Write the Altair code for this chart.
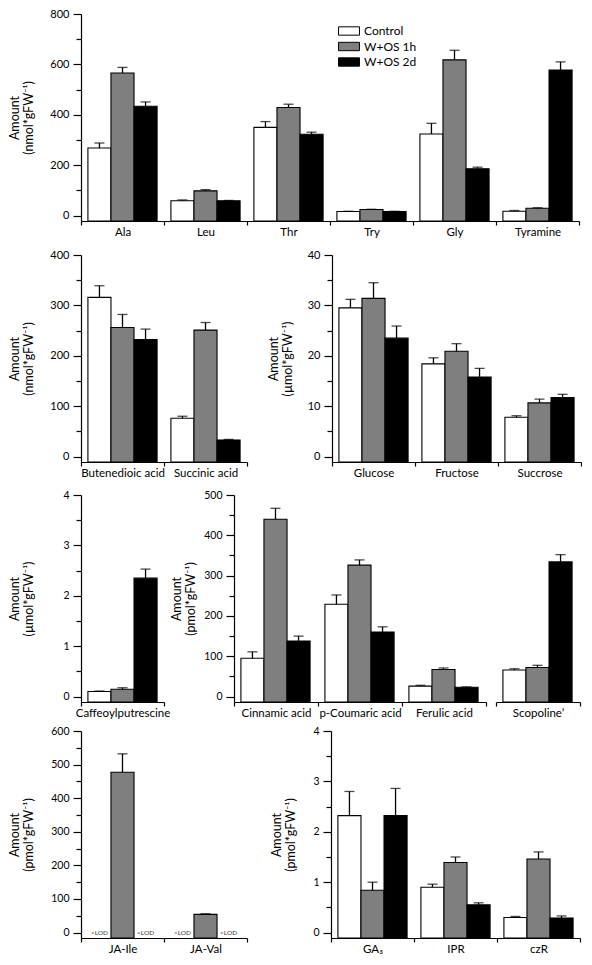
import altair as alt
import pandas as pd

FONT = "Lato"
GROUPS = ["Control", "W+OS 1h", "W+OS 2d"]
FILLS = ["#ffffff", "#7f7f7f", "#000000"]

# ---- Panel 1: amino acids (nmol*gFW-1)
p1_cats = ["Ala", "Leu", "Thr", "Try", "Gly", "Tyramine"]
p1_ctrl = [268, 59, 350, 16, 324, 17]
p1_ctrl_err = [20, 3, 23, 1, 42, 3]
p1_h1 = [566, 98, 429, 24, 618, 29]
p1_h1_err = [22, 5, 13, 1, 38, 2]
p1_d2 = [434, 59, 323, 16, 186, 578]
p1_d2_err = [17, 1, 8, 1, 6, 32]

# ---- Panel 2: organic acids (nmol*gFW-1)
p2_cats = ["Butenedioic acid", "Succinic acid"]
p2_ctrl = [316, 76]
p2_ctrl_err = [23, 4]
p2_h1 = [256, 251]
p2_h1_err = [26, 15]
p2_d2 = [232, 33]
p2_d2_err = [21, 1]

# ---- Panel 3: sugars (umol*gFW-1)
p3_cats = ["Glucose", "Fructose", "Succrose"]
p3_ctrl = [29.5, 18.4, 7.8]
p3_ctrl_err = [1.7, 1.2, 0.3]
p3_h1 = [31.4, 20.9, 10.65]
p3_h1_err = [3.1, 1.5, 0.75]
p3_d2 = [23.5, 15.8, 11.7]
p3_d2_err = [2.4, 1.7, 0.65]

# ---- Panel 4: caffeoylputrescine (umol*gFW-1)
p4_cats = ["Caffeoylputrescine"]
p4_ctrl = [0.10]
p4_ctrl_err = [0.01]
p4_h1 = [0.145]
p4_h1_err = [0.03]
p4_d2 = [2.35]
p4_d2_err = [0.18]

# ---- Panel 5: phenolics (pmol*gFW-1)
p5_cats = ["Cinnamic acid", "p-Coumaric acid", "Ferulic acid"]
p5_ctrl = [95, 229, 26]
p5_ctrl_err = [16, 23, 2]
p5_h1 = [440, 326, 67]
p5_h1_err = [27, 13, 4]
p5_d2 = [138, 160, 23]
p5_d2_err = [12, 13, 1]

p5b_cats = ["Scopoline\u2019"]
p5b_ctrl = [66]
p5b_ctrl_err = [3]
p5b_h1 = [72]
p5b_h1_err = [5.5]
p5b_d2 = [334]
p5b_d2_err = [18]

# ---- Panel 6: jasmonates (pmol*gFW-1); None = <LOD
p6_cats = ["JA-Ile", "JA-Val"]
p6_ctrl = [None, None]
p6_ctrl_err = [None, None]
p6_h1 = [477, 54]
p6_h1_err = [55, 2]
p6_d2 = [None, None]
p6_d2_err = [None, None]

# ---- Panel 7: GA and cytokinins (pmol*gFW-1)
p7_cats = ["GA\u2083", "IPR", "czR"]
p7_ctrl = [2.32, 0.90, 0.30]
p7_ctrl_err = [0.48, 0.06, 0.02]
p7_h1 = [0.84, 1.39, 1.46]
p7_h1_err = [0.16, 0.11, 0.14]
p7_d2 = [2.32, 0.55, 0.29]
p7_d2_err = [0.54, 0.04, 0.04]

H = 207


def make_df(cats, c, ce, h, he, d, de):
    rows = []
    for i, cat in enumerate(cats):
        for g, v, e in zip(GROUPS, (c[i], h[i], d[i]), (ce[i], he[i], de[i])):
            rows.append({"cat": cat, "grp": g, "val": v, "err": e,
                         "lod": "<LOD" if v is None else None})
    return pd.DataFrame(rows)


def major_test(m):
    return f"abs(datum.value / {m} - round(datum.value / {m})) < 1e-6"


def panel(df, cats, ymax, major, minor, unit, width, band, title_pad,
          tick_fs=11, show_y=True, legend=None):
    ymin = -ymax * 0.027
    n_minor = int(round(ymax / minor))
    ticks = [round(i * minor, 6) for i in range(n_minor + 1)]
    test = major_test(major)

    x = alt.X("cat:N",
              scale=alt.Scale(domain=cats, range=[0, band * len(cats)],
                              paddingInner=0, paddingOuter=0),
              axis=alt.Axis(title=None, labelAngle=0, tickBand="extent",
                            tickSize=4, labelPadding=1, labelFontSize=11.5,
                            labelFont=FONT, labelColor="black",
                            domainColor="black", tickColor="black",
                            domainWidth=1.2, tickWidth=1.2))
    xo = alt.XOffset("grp:N", scale=alt.Scale(domain=GROUPS, paddingOuter=0.3,
                                              paddingInner=0))
    if show_y:
        yax = alt.Axis(values=ticks, format="~f", labelOverlap=False,
                       labelSeparation=0,
                       labelExpr=f"({test}) ? datum.label : ''",
                       tickSize={"condition": {"test": test, "value": 8}, "value": 5},
                       labelPadding=4, minExtent=30, maxExtent=30,
                       title=["Amount", unit], titlePadding=title_pad,
                       titleFontSize=12.5, titleFontWeight="normal",
                       titleLineHeight=14, titleFont=FONT, titleColor="black",
                       labelFontSize=tick_fs, labelFont=FONT, labelColor="black",
                       domainColor="black", tickColor="black",
                       domainWidth=1.2, tickWidth=1.2, grid=False)
    else:
        yax = None
    yscale = alt.Scale(domain=[ymin, ymax], nice=False, zero=False)
    y = alt.Y("val:Q", scale=yscale, axis=yax)

    base = alt.Chart(df)
    fill = alt.Fill("grp:N", scale=alt.Scale(domain=GROUPS, range=FILLS),
                    legend=legend)
    bars = base.mark_bar(stroke="black", strokeWidth=1.1).encode(
        x=x, xOffset=xo, y=y, y2=alt.datum(ymin), fill=fill
    ).transform_filter("isValid(datum.val)")
    errs = base.transform_filter("isValid(datum.val)").transform_calculate(
        hi="datum.val + datum.err")
    rule = errs.mark_rule(color="black", strokeWidth=1.3).encode(
        x=x, xOffset=xo, y=y, y2="hi:Q")
    cap = errs.mark_tick(color="black", orient="horizontal", size=10,
                         thickness=1.3).encode(
        x=x, xOffset=xo, y=alt.Y("hi:Q", scale=yscale, axis=yax))
    layers = [bars, rule, cap]
    if df["lod"].notna().any():
        lod = base.transform_filter("isValid(datum.lod)").mark_text(
            fontSize=6.5, font=FONT, color="#333333", baseline="middle"
        ).encode(x=x, xOffset=xo,
                 y=alt.YDatum(0, scale=yscale, axis=yax, type="quantitative"),
                 text="lod:N")
        layers.append(lod)
    return alt.layer(*layers).properties(
        width=width, height=H,
        view=alt.ViewBackground(stroke=None, strokeWidth=0))


legend1 = alt.Legend(title=None, orient="none", legendX=262, legendY=11,
                     symbolType="M-2.5,-1H2.5V1H-2.5Z", symbolSize=70,
                     symbolStrokeColor="black", symbolStrokeWidth=1,
                     symbolOpacity=1, labelFontSize=12, labelFont=FONT,
                     labelColor="black", labelOffset=9, rowPadding=1.5)

d1 = make_df(p1_cats, p1_ctrl, p1_ctrl_err, p1_h1, p1_h1_err, p1_d2, p1_d2_err)
d2 = make_df(p2_cats, p2_ctrl, p2_ctrl_err, p2_h1, p2_h1_err, p2_d2, p2_d2_err)
d3 = make_df(p3_cats, p3_ctrl, p3_ctrl_err, p3_h1, p3_h1_err, p3_d2, p3_d2_err)
d4 = make_df(p4_cats, p4_ctrl, p4_ctrl_err, p4_h1, p4_h1_err, p4_d2, p4_d2_err)
d5 = make_df(p5_cats, p5_ctrl, p5_ctrl_err, p5_h1, p5_h1_err, p5_d2, p5_d2_err)
d5b = make_df(p5b_cats, p5b_ctrl, p5b_ctrl_err, p5b_h1, p5b_h1_err, p5b_d2, p5b_d2_err)
d6 = make_df(p6_cats, p6_ctrl, p6_ctrl_err, p6_h1, p6_h1_err, p6_d2, p6_d2_err)
d7 = make_df(p7_cats, p7_ctrl, p7_ctrl_err, p7_h1, p7_h1_err, p7_d2, p7_d2_err)

NMOL = "(nmol*gFW\u207b\u00b9)"
UMOL = "(\u00b5mol*gFW\u207b\u00b9)"
PMOL = "(pmol*gFW\u207b\u00b9)"

c1 = panel(d1, p1_cats, 800, 200, 100, NMOL, 498, 83, 16, legend=legend1)
c2 = panel(d2, p2_cats, 400, 100, 50, NMOL, 166, 83, 16)
c3 = panel(d3, p3_cats, 40, 10, 5, UMOL, 249, 83, 8)
c4 = panel(d4, p4_cats, 4, 1, 0.5, UMOL, 143, 83, 16, tick_fs=10.5)
c5 = panel(d5, p5_cats, 500, 100, 50, PMOL, 252, 84, 7, tick_fs=10.5)
c5b = panel(d5b, p5b_cats, 500, 100, 50, PMOL, 84, 84, 7, show_y=False)
c6 = panel(d6, p6_cats, 600, 100, 50, PMOL, 166, 83, 16, tick_fs=10.5)
c7 = panel(d7, p7_cats, 4, 1, 0.5, PMOL, 249, 83, 4, tick_fs=10.5)


def ind(ch):
    return ch.resolve_scale(fill="independent").resolve_legend(fill="independent")


row2 = ind(alt.hconcat(c2, c3, spacing=85, bounds="flush"))
row3 = ind(alt.hconcat(c4, c5, c5b, spacing=10, bounds="flush"))
row4 = ind(alt.hconcat(c6, c7, spacing=84, bounds="flush"))
inner = ind(alt.vconcat(c1, row2, row3, spacing=11))
chart = ind(alt.vconcat(inner, row4, spacing=7)).properties(
    padding=0, background="white"
).configure_view(stroke=None, strokeWidth=0).configure_axis(
    labelOverlap=False
).configure(font=FONT)

chart.save("out.html", embed_options={"renderer": "svg", "actions": False})
